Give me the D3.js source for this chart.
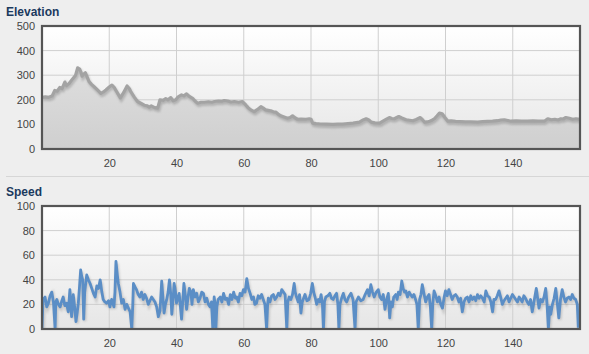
<!DOCTYPE html>
<html>
<head>
<meta charset="utf-8">
<script src="https://cdn.jsdelivr.net/npm/d3@7/dist/d3.min.js"></script>
<style>
  html, body { margin: 0; padding: 0; background: #eeeeee; }
  svg { display: block; }
  text { font-family: "Liberation Sans", Arial, sans-serif; }
</style>
</head>
<body>
<svg id="chart" width="589" height="354"></svg>
<script>
// ---- Data ----
const xTicks = [20, 40, 60, 80, 100, 120, 140];
const elevTicks = [0, 100, 200, 300, 400, 500];
const speedTicks = [0, 20, 40, 60, 80, 100];

const elevX = [0, 1, 2, 3, 3.8, 4.5, 5.3, 6, 6.8, 7.3, 8, 9.1, 10, 10.6, 11.2, 11.6, 11.9, 12.5, 12.9, 13.5, 14, 14.8, 15.5, 16.5, 17.5, 18.3, 19, 20, 20.8, 21.5, 22, 23.3, 24.3, 25.3, 26, 26.4, 27.5, 28.4, 29.5, 30.4, 31.2, 31.9, 32.5, 33.5, 34.4, 35.1, 36, 36.8, 37.5, 38.3, 39, 39.8, 40.5, 41.5, 42.2, 43, 43.8, 44.8, 45.5, 46.3, 47.3, 48.3, 49.5, 50.5, 51.3, 52.5, 53.5, 54.2, 55.2, 56.2, 57.2, 58.5, 59.6, 60.6, 61.3, 62.1, 63.1, 64, 65.1, 65.8, 66.5, 67.3, 68, 68.8, 69.5, 70.2, 71, 72, 73, 73.8, 74.5, 75.2, 76, 77, 78.5, 79.5, 80, 80.5, 81.5, 82.5, 84.5, 86.5, 88, 89.4, 91, 92.5, 94.4, 95.5, 96.4, 97.2, 97.9, 99, 100.4, 101.4, 102.3, 103.3, 104, 104.8, 105.5, 106.1, 107, 108.3, 109.3, 110.3, 111.3, 112.5, 113.2, 113.8, 114.6, 115.3, 116, 116.7, 117.5, 118.2, 119, 119.7, 120.7, 121.7, 123, 124.5, 126, 127.5, 129.6, 131, 132.5, 134, 135.5, 136.5, 137.5, 138.5, 139.5, 141, 142.5, 144.5, 146, 147.5, 149.4, 150.4, 151.5, 152.5, 153.5, 154.3, 155, 155.8, 156.8, 157.8, 158.8, 160];
const elevV = [210, 212, 210, 215, 238, 235, 250, 246, 272, 258, 265, 285, 300, 330, 325, 312, 296, 305, 310, 290, 274, 262, 253, 240, 226, 232, 240, 252, 260, 250, 238, 208, 230, 256, 245, 233, 210, 193, 185, 178, 176, 170, 175, 168, 166, 200, 198, 205, 200, 209, 196, 200, 212, 220, 216, 224, 214, 206, 195, 186, 190, 190, 192, 190, 193, 195, 194, 197, 195, 191, 193, 190, 193, 179, 168, 159, 152, 160, 172, 166, 159, 157, 155, 151, 150, 142, 135, 130, 125, 128, 135, 127, 121, 122, 121, 123, 121, 105, 103, 102, 101, 100, 101, 101, 103, 105, 109, 118, 123, 118, 109, 106, 105, 113, 120, 128, 124, 123, 128, 132, 126, 119, 117, 115, 120, 128, 118, 109, 110, 113, 117, 123, 135, 146, 143, 130, 113, 114, 112, 111, 110, 110, 109, 111, 112, 113, 115, 118, 119, 116, 113, 114, 113, 113, 114, 113, 113, 123, 119, 121, 118, 123, 122, 128, 125, 121, 123, 120];

const speedX = [0, 0.3, 0.9, 1.4, 1.9, 2.4, 2.9, 3.4, 3.9, 4.1, 4.4, 4.9, 5.4, 5.9, 6.3, 6.8, 7.3, 7.8, 8.3, 8.8, 9.3, 9.7, 10.1, 10.5, 10.8, 11.2, 11.5, 11.8, 12.1, 12.4, 12.7, 13.3, 13.8, 14.3, 14.8, 15.3, 15.8, 16.3, 16.8, 17.3, 17.8, 18.2, 18.7, 19.2, 19.8, 20.2, 20.7, 21.4, 21.7, 22, 22.4, 22.7, 23.2, 23.7, 24.2, 24.7, 25.2, 25.7, 26.2, 26.7, 27, 27.2, 27.7, 28.1, 28.6, 29.1, 29.6, 30.1, 30.6, 31.1, 31.6, 32.1, 32.6, 33.1, 33.6, 34.1, 34.6, 35.1, 35.6, 35.9, 36.3, 36.7, 37.1, 37.5, 37.9, 38.3, 38.6, 39, 39.3, 39.7, 40, 40.4, 40.8, 41.1, 41.5, 41.8, 42.2, 42.6, 43, 43.4, 43.8, 44.3, 44.6, 45, 45.5, 46, 46.5, 47, 47.5, 48, 48.5, 49, 49.5, 50, 50.4, 50.8, 51.2, 51.5, 51.7, 52, 52.4, 53, 53.5, 54, 54.5, 55, 55.5, 56, 56.5, 57, 57.5, 57.9, 58.4, 58.9, 59.4, 59.9, 60.4, 60.9, 61.4, 61.9, 62.4, 62.9, 63.3, 63.8, 64.3, 64.8, 65.3, 65.8, 66.3, 66.8, 67.1, 67.3, 67.8, 68.3, 68.8, 69.3, 69.8, 70.3, 70.8, 71.3, 71.8, 72.3, 72.8, 73.1, 73.5, 74, 74.5, 75, 75.3, 75.7, 76.2, 76.6, 77, 77.4, 77.8, 78.2, 78.8, 79.4, 79.9, 80.4, 80.8, 81.2, 81.7, 82.2, 82.6, 83, 83.4, 83.7, 84, 84.4, 85, 85.6, 86.1, 86.6, 87.1, 87.6, 88, 88.3, 88.6, 89.1, 89.6, 90.1, 90.6, 91.2, 91.9, 92.5, 93.1, 93.4, 94.1, 94.8, 95.5, 96.1, 96.8, 97.3, 97.8, 98.3, 98.8, 99.4, 100, 100.5, 101, 101.5, 102, 102.5, 103, 103.4, 103.8, 104.2, 104.6, 105.2, 105.6, 106, 106.5, 107, 107.4, 107.8, 108.2, 108.7, 109.2, 109.6, 110.1, 110.6, 111.1, 111.5, 111.9, 112.3, 112.7, 113.1, 113.5, 114.1, 114.6, 115.1, 115.5, 115.9, 116.2, 116.6, 117.1, 117.6, 118.1, 118.6, 119.1, 119.6, 120, 120.5, 121, 121.5, 122, 122.5, 123, 123.5, 124, 124.5, 125, 125.5, 126, 126.5, 127, 127.5, 128, 128.5, 129, 129.5, 130, 130.5, 131, 131.5, 132, 132.5, 133, 133.5, 134, 134.4, 134.9, 135.4, 135.9, 136.4, 136.9, 137.4, 137.9, 138.4, 138.9, 139.4, 139.9, 140.4, 140.9, 141.4, 141.9, 142.4, 142.8, 143.3, 143.8, 144.3, 144.8, 145.3, 145.8, 146.3, 147, 147.4, 147.8, 148.3, 148.8, 149.3, 149.8, 150.2, 150.6, 151, 151.3, 151.8, 152.3, 152.8, 153.2, 153.7, 154.2, 154.7, 155.2, 155.7, 156.2, 156.7, 157.2, 157.7, 158.2, 158.7, 159.2, 159.5];
const speedV = [0, 24, 26, 18, 21, 27, 30, 22, 0, 22, 24, 20, 18, 23, 26, 19, 21, 14, 32, 10, 28, 18, 6, 14, 21, 36, 48, 43, 40, 8, 30, 44, 40, 37, 33, 29, 26, 35, 33, 40, 30, 24, 22, 21, 23, 18, 24, 18, 30, 55, 44, 37, 30, 21, 24, 16, 20, 17, 14, 0, 20, 37, 34, 32, 28, 26, 30, 24, 28, 25, 20, 23, 26, 24, 22, 18, 10, 15, 39, 28, 13, 20, 24, 30, 40, 28, 12, 25, 37, 30, 21, 25, 29, 20, 8, 20, 37, 28, 16, 25, 33, 30, 20, 32, 26, 29, 22, 25, 30, 29, 22, 25, 20, 18, 22, 0, 26, 20, 0, 18, 24, 26, 22, 29, 24, 25, 20, 28, 24, 30, 25, 26, 22, 29, 27, 32, 30, 41, 33, 29, 24, 26, 20, 21, 27, 25, 28, 24, 20, 0, 20, 25, 22, 27, 28, 24, 26, 29, 27, 32, 30, 28, 0, 22, 26, 24, 28, 37, 30, 26, 22, 28, 13, 22, 25, 28, 23, 24, 29, 37, 30, 26, 20, 24, 22, 28, 20, 0, 22, 26, 27, 29, 25, 24, 27, 29, 20, 0, 20, 25, 29, 24, 22, 26, 29, 24, 0, 22, 26, 23, 24, 28, 32, 27, 36, 30, 26, 30, 32, 26, 24, 28, 16, 24, 29, 9, 22, 18, 26, 28, 24, 30, 28, 39, 33, 30, 31, 26, 30, 28, 26, 28, 24, 20, 0, 24, 28, 36, 30, 22, 26, 28, 18, 0, 20, 31, 27, 22, 26, 20, 17, 26, 31, 27, 32, 28, 24, 27, 28, 26, 22, 25, 14, 22, 25, 26, 22, 27, 24, 26, 23, 28, 25, 27, 25, 22, 31, 27, 26, 22, 14, 24, 24, 27, 31, 26, 20, 23, 25, 27, 22, 25, 28, 26, 24, 22, 26, 24, 22, 27, 25, 22, 20, 24, 14, 22, 33, 25, 17, 24, 22, 26, 33, 20, 0, 18, 12, 20, 25, 33, 22, 9, 24, 32, 26, 22, 25, 26, 24, 28, 25, 24, 20, 1];

const elevData = elevX.map((x, i) => ({ x, v: elevV[i] }));
const speedData = speedX.map((x, i) => ({ x, v: speedV[i] }));

// ---- Layout ----
const svg = d3.select("#chart");
const defs = svg.append("defs");

const bg = defs.append("linearGradient").attr("id", "plotbg").attr("x1", 0).attr("y1", 0).attr("x2", 0).attr("y2", 1);
bg.append("stop").attr("offset", "0%").attr("stop-color", "#ffffff");
bg.append("stop").attr("offset", "100%").attr("stop-color", "#e6e6e6");

const af = defs.append("linearGradient").attr("id", "areafill").attr("x1", 0).attr("y1", 0).attr("x2", 0).attr("y2", 1);
af.append("stop").attr("offset", "0%").attr("stop-color", "#dedede");
af.append("stop").attr("offset", "100%").attr("stop-color", "#cfcfcf");

const blur = defs.append("filter").attr("id", "shadow").attr("x", "-5%").attr("y", "-20%").attr("width", "110%").attr("height", "140%");
blur.append("feGaussianBlur").attr("stdDeviation", 1.2);

const x = d3.scaleLinear().domain([0, 160]).range([42, 580]);

function panel(opts) {
  const { top, bottom, yMax, ticks, title, titleY, clipId } = opts;
  const y = d3.scaleLinear().domain([0, yMax]).range([bottom, top]);
  const g = svg.append("g");

  g.append("text").attr("x", 6).attr("y", titleY)
    .attr("font-size", 12).attr("font-weight", "bold").attr("fill", "#1b3a5e")
    .text(title);

  g.append("rect").attr("x", x(0)).attr("y", top).attr("width", x(160) - x(0)).attr("height", bottom - top)
    .attr("fill", "url(#plotbg)");

  // grid
  g.append("g").selectAll("line").data(xTicks).join("line")
    .attr("x1", d => x(d)).attr("x2", d => x(d)).attr("y1", top).attr("y2", bottom)
    .attr("stroke", "#cfcfcf").attr("stroke-width", 1);
  g.append("g").selectAll("line").data(ticks.slice(1, -1)).join("line")
    .attr("x1", x(0)).attr("x2", x(160)).attr("y1", d => y(d)).attr("y2", d => y(d))
    .attr("stroke", "#cfcfcf").attr("stroke-width", 1);

  defs.append("clipPath").attr("id", clipId).append("rect")
    .attr("x", x(0)).attr("y", top).attr("width", x(160) - x(0)).attr("height", bottom - top);
  const plot = g.append("g").attr("clip-path", `url(#${clipId})`);

  const yAxis = d3.axisLeft(y).tickValues(ticks).tickSize(0).tickPadding(7);
  const ya = g.append("g").attr("transform", `translate(${x(0)},0)`).call(yAxis);
  ya.select(".domain").remove();
  ya.selectAll("text").attr("font-size", 11).attr("fill", "#444").attr("font-family", "Liberation Sans, Arial, sans-serif");

  const xAxis = d3.axisBottom(x).tickValues(xTicks).tickSize(0).tickPadding(10);
  const xa = g.append("g").attr("transform", `translate(0,${bottom})`).call(xAxis);
  xa.select(".domain").remove();
  xa.selectAll("text").attr("font-size", 11).attr("fill", "#444").attr("font-family", "Liberation Sans, Arial, sans-serif");

  return { y, plot, g, top, bottom };
}

function frame(p) {
  p.g.append("rect").attr("x", x(0)).attr("y", p.top).attr("width", x(160) - x(0)).attr("height", p.bottom - p.top)
    .attr("fill", "none").attr("stroke", "#555555").attr("stroke-width", 2.2);
}

// Elevation
const pe = panel({ top: 26, bottom: 149, yMax: 500, ticks: elevTicks, title: "Elevation", titleY: 16, clipId: "clipE" });
const area = d3.area().x(d => x(d.x)).y0(pe.y(0)).y1(d => pe.y(d.v));
const lineE = d3.line().x(d => x(d.x)).y(d => pe.y(d.v));
pe.plot.append("path").datum(elevData).attr("d", area).attr("fill", "url(#areafill)");
pe.plot.append("path").datum(elevData).attr("d", lineE).attr("fill", "none")
  .attr("stroke", "rgba(0,0,0,0.18)").attr("stroke-width", 3.5).attr("transform", "translate(1,2)").attr("filter", "url(#shadow)");
pe.plot.append("path").datum(elevData).attr("d", lineE).attr("fill", "none")
  .attr("stroke", "#a3a3a3").attr("stroke-width", 3.2).attr("stroke-linejoin", "round");
frame(pe);

// separator
svg.append("line").attr("x1", 6).attr("x2", 589).attr("y1", 176.5).attr("y2", 176.5)
  .attr("stroke", "#d6d6d6").attr("stroke-width", 1);

// Speed
const ps = panel({ top: 206, bottom: 329, yMax: 100, ticks: speedTicks, title: "Speed", titleY: 196, clipId: "clipS" });
const lineS = d3.line().x(d => x(d.x)).y(d => ps.y(d.v));
ps.plot.append("path").datum(speedData).attr("d", lineS).attr("fill", "none")
  .attr("stroke", "rgba(0,0,0,0.16)").attr("stroke-width", 3.2).attr("transform", "translate(1,2)").attr("filter", "url(#shadow)");
ps.plot.append("path").datum(speedData).attr("d", lineS).attr("fill", "none")
  .attr("stroke", "#5b8ec6").attr("stroke-width", 2.8).attr("stroke-linejoin", "round");
frame(ps);
</script>
</body>
</html>
